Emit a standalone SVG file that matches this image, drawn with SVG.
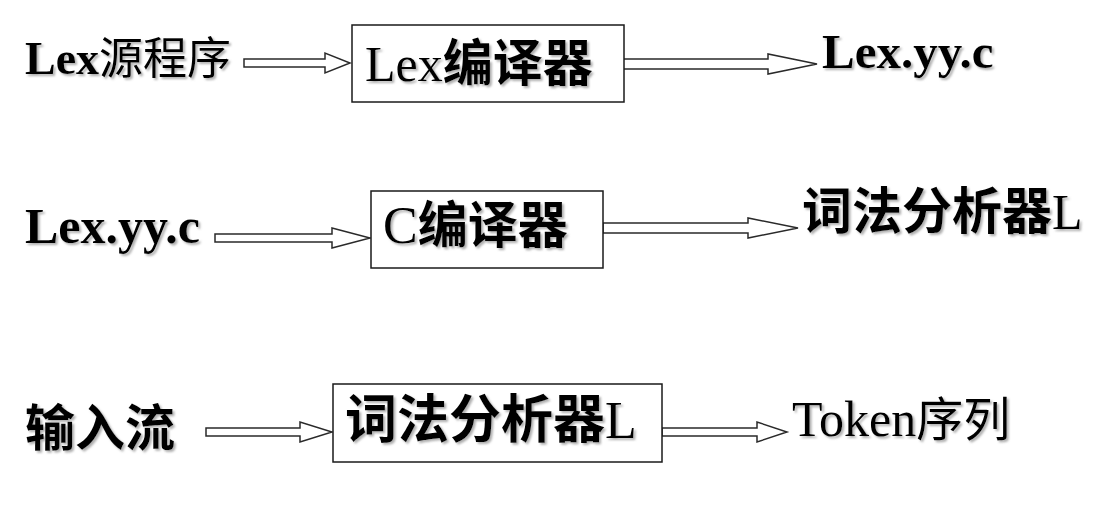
<svg xmlns="http://www.w3.org/2000/svg" width="1104" height="514" viewBox="0 0 1104 514">
  <style>
    .box { fill: #ffffff; stroke: #1a1a1a; stroke-width: 1.5; }
    .arrow { fill: #ffffff; stroke: #2a2a2a; stroke-width: 1.5; stroke-linejoin: miter; }
    .t { font-family: "Liberation Serif", "Noto Sans CJK SC", serif; fill: #000000; filter: url(#shadow); }
    .cjk { font-family: "Noto Sans CJK SC", sans-serif; }
    .b { font-weight: bold; }
    .n { font-weight: normal; }
  </style>
  <defs>
    <filter id="shadow" x="-10%" y="-20%" width="130%" height="150%">
      <feDropShadow dx="2" dy="2" stdDeviation="1.2" flood-color="#7a7a7a" flood-opacity="0.6"/>
    </filter>
  </defs>
  <rect width="1104" height="514" fill="#ffffff"/>

  <!-- hollow block arrows -->
  <g id="connectors">
    <polygon class="arrow" points="244,59 325,59 325,53 350,63 325,73 325,67 244,67"/>
    <polygon class="arrow" points="623,59 768,59 768,54 817,64 768,74 768,69 623,69"/>
    <polygon class="arrow" points="215,234 332,234 332,228 370,238 332,248 332,242 215,242"/>
    <polygon class="arrow" points="603,223 748,223 748,218 798,228 748,238 748,233 603,233"/>
    <polygon class="arrow" points="206,428 300,428 300,422 332,432 300,442 300,436 206,436"/>
    <polygon class="arrow" points="662,428 757,428 757,422 787,432 757,442 757,436 662,436"/>
  </g>

  <!-- row 1 -->
  <g id="lex-source">
    <text class="t" x="25" y="74" font-size="46"><tspan class="b">Lex</tspan><tspan class="cjk n" font-size="44">源程序</tspan></text>
  </g>
  <g id="lex-compiler">
    <rect class="box" x="352" y="25" width="272" height="77"/>
    <text class="t" x="365" y="81" font-size="50"><tspan class="n">Lex</tspan><tspan class="cjk b" font-size="50">编译器</tspan></text>
  </g>
  <g id="lex-yy-c-out">
    <text class="t b" x="822" y="68" font-size="49">Lex.yy.c</text>
  </g>

  <!-- row 2 -->
  <g id="lex-yy-c-in">
    <text class="t b" x="25" y="243" font-size="50">Lex.yy.c</text>
  </g>
  <g id="c-compiler">
    <rect class="box" x="371" y="191" width="232" height="77"/>
    <text class="t" x="383" y="243" font-size="52"><tspan class="n">C</tspan><tspan class="cjk b" font-size="50">编译器</tspan></text>
  </g>
  <g id="lexer-out">
    <text class="t" x="802" y="229" font-size="50"><tspan class="cjk b">词法分析器</tspan><tspan class="n">L</tspan></text>
  </g>

  <!-- row 3 -->
  <g id="input-stream">
    <text class="t cjk b" x="25" y="446" font-size="50">输入流</text>
  </g>
  <g id="lexer">
    <rect class="box" x="333" y="384" width="329" height="78"/>
    <text class="t" x="345" y="438" font-size="52"><tspan class="cjk b">词法分析器</tspan><tspan class="n">L</tspan></text>
  </g>
  <g id="token-seq">
    <text class="t" x="792" y="436" font-size="50"><tspan class="n">Token</tspan><tspan class="cjk n" font-size="47">序列</tspan></text>
  </g>
</svg>
